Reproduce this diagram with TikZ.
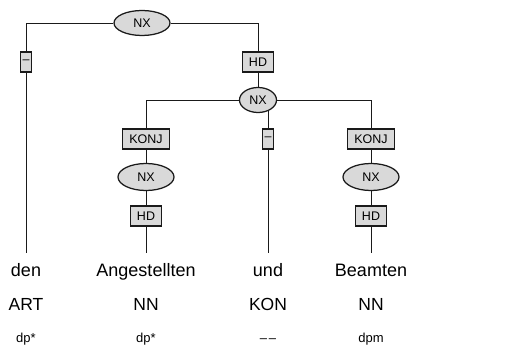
\documentclass[tikz,border=0pt]{standalone}
\usepackage{fontspec}
\setmainfont{Liberation Sans}
\usetikzlibrary{shapes.geometric, backgrounds}
\definecolor{cfill}{HTML}{D9D9D9}
\definecolor{cline}{HTML}{1A1A1A}
\tikzset{
  every picture/.style={line width=1.25pt},
  catnode/.style={ellipse, draw=cline, fill=cfill, inner sep=0pt, minimum width=56pt, minimum height=25pt, font=\fontsize{12.5}{12.5}\selectfont},
  edgebox/.style={rectangle, draw=cline, fill=cfill, inner xsep=6.5pt, inner ysep=0pt, minimum height=20pt, font=\fontsize{12.5}{12.5}\selectfont},
  word/.style={anchor=north, inner xsep=0pt, inner ysep=10pt, text height=13pt, text depth=4pt, font=\fontsize{18}{18}\selectfont},
  postag/.style={anchor=base, inner sep=0pt, font=\fontsize{17.5}{17.5}\selectfont},
  morph/.style={anchor=base, inner sep=0pt, font=\fontsize{13}{13}\selectfont},
  link/.style={draw=cline},
}

\begin{document}
\begin{tikzpicture}[x=1pt, y=-1pt]
  \useasboundingbox (0,0) rectangle (513,347);
  % syntax nodes and edge labels
  \node[catnode] (nxtop) at (142,23) {NX};
  \node[edgebox, inner xsep=2pt] (fden) at (26,62) {–};
  \node[edgebox] (fhd) at (258,62) {HD};
  \node[catnode, minimum width=37pt] (nxco) at (258,100) {NX};
  \node[edgebox] (fkonja) at (146,139) {KONJ};
  \node[catnode, minimum height=27pt] (nxa) at (146,177) {NX};
  \node[edgebox] (fhda) at (146,216) {HD};
  \node[edgebox, inner xsep=2pt] (fund) at (268,139) {–};
  \node[edgebox] (fkonjb) at (371,139) {KONJ};
  \node[catnode, minimum height=27pt] (nxb) at (371,177) {NX};
  \node[edgebox] (fhdb) at (371,216) {HD};
  % tokens
  \node[word] (wden) at (26,253) {den};
  \node[word] (wang) at (146,253) {Angestellten};
  \node[word] (wund) at (268,253) {und};
  \node[word] (wbea) at (371,253) {Beamten};
  \node[postag] (pden) at (26,310) {ART};
  \node[postag] (pang) at (146,310) {NN};
  \node[postag] (pund) at (268,310) {KON};
  \node[postag] (pbea) at (371,310) {NN};
  \node[morph] (mden) at (26,342) {dp*};
  \node[morph] (mang) at (146,342) {dp*};
  \node[morph] (mund) at (268,342) {–\kern2pt–};
  \node[morph] (mbea) at (371,342) {dpm};
  \begin{scope}[on background layer]
    \draw[link] (nxtop.west) -| (fden) -- (wden);
    \draw[link] (nxtop.east) -| (fhd) -- (nxco);
    \draw[link] (nxco.west) -| (fkonja) -- (nxa) -- (fhda) -- (wang);
    \draw[link] (nxco.east) -| (fkonjb) -- (nxb) -- (fhdb) -- (wbea);
    \draw[link] (fund |- nxco) -- (fund) -- (wund);
  \end{scope}
\end{tikzpicture}
\end{document}
